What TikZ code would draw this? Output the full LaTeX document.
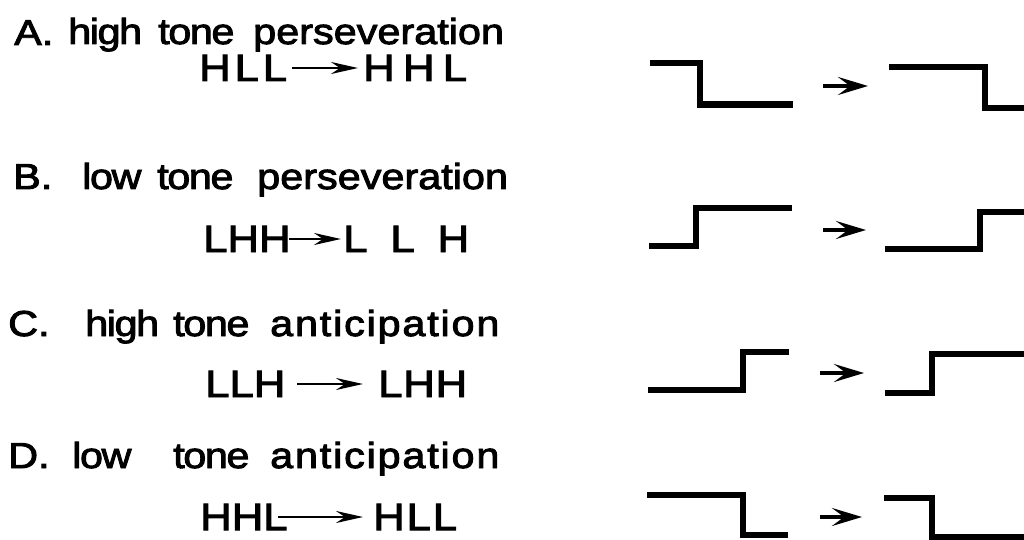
\documentclass[tikz,border=0pt]{standalone}
\usepackage{fontspec}
\setmainfont[FakeStretch=1.15,FakeBold=2.6]{Liberation Sans}
\usetikzlibrary{arrows.meta}
\newcommand{\spreadto}[2]{\makebox[#1][s]{#2}}
\begin{document}
\begin{tikzpicture}[x=1pt,y=-1pt,
  lbl/.style={anchor=base west, inner sep=0pt, font=\fontsize{36}{42}\selectfont},
  wide/.style={font=\fontsize{36}{42}\selectfont\addfontfeature{LetterSpace=5}},
  narrow/.style={font=\fontsize{36}{42}\selectfont\addfontfeature{LetterSpace=-4}},
  tones/.style={anchor=base west, inner sep=0pt, font=\fontsize{38}{42}\selectfont},
  wave/.style={line width=6.5pt, line join=miter, line cap=butt},
  txtarrow/.style={line width=2.8pt, -{Stealth[length=27pt,width=12pt,inset=9pt]}},
  wavearrow/.style={line width=3.6pt, -{Stealth[length=30pt,width=18pt,inset=12pt]}}]
\useasboundingbox (0,0) rectangle (1024,540);
\clip (0,0) rectangle (1024,540);

% ---------- Row A ----------
\node[lbl] (aL) at (14,45) {A.};
\node[lbl,narrow] (a1) at (68,44) {high};
\node[lbl,narrow] (a2) at (158,44) {tone};
\node[lbl] (a3) at (253,44) {perseveration};
\node[tones] (aF) at (199,81) {\spreadto{88pt}{H\hfil L\hfil L}};
\node[tones] (aT) at (363,81) {\spreadto{104pt}{H\hfil H\hfil L}};
\coordinate (aS) at (292,68);
\coordinate (aE) at (358,68);
\draw[txtarrow] (aS) -- (aE);

\draw[wave] (650,63) -- (700,63) -- (700,104.5) -- (793,104.5);
\coordinate (awS) at (823,86);
\coordinate (awE) at (868,86);
\draw[wavearrow] (awS) -- (awE);
\draw[wave] (889,67) -- (985,67) -- (985,108) -- (1030,108);

% ---------- Row B ----------
\node[lbl] (bL) at (13,189) {B.};
\node[lbl,narrow] (b1) at (82,189) {low};
\node[lbl,narrow] (b2) at (157,189) {tone};
\node[lbl] (b3) at (257,189) {perseveration};
\node[tones] (bF) at (203,252) {\spreadto{84pt}{L\hfil H\hfil H}};
\node[tones] (bT) at (343,252) {\spreadto{126pt}{L\hfil L\hfil H}};
\coordinate (bS) at (289,239);
\coordinate (bE) at (341,239);
\draw[txtarrow] (bS) -- (bE);

\draw[wave] (649,246) -- (696,246) -- (696,208) -- (792,208);
\coordinate (bwS) at (823,230);
\coordinate (bwE) at (866,230);
\draw[wavearrow] (bwS) -- (bwE);
\draw[wave] (885,249) -- (980,249) -- (980,212) -- (1030,212);

% ---------- Row C ----------
\node[lbl] (cL) at (8,336) {C.};
\node[lbl,narrow] (c1) at (85,336) {high};
\node[lbl,narrow] (c2) at (173,336) {tone};
\node[lbl,wide] (c3) at (270,336) {anticipation};
\node[tones] (cF) at (205,397) {\spreadto{80pt}{L\hfil L\hfil H}};
\node[tones] (cT) at (378,397) {\spreadto{89pt}{L\hfil H\hfil H}};
\coordinate (cS) at (297,384);
\coordinate (cE) at (363,384);
\draw[txtarrow] (cS) -- (cE);

\draw[wave] (648,390) -- (743,390) -- (743,352) -- (789,352);
\coordinate (cwS) at (820,373);
\coordinate (cwE) at (864,373);
\draw[wavearrow] (cwS) -- (cwE);
\draw[wave] (885,393) -- (932,393) -- (932,354) -- (1030,354);

% ---------- Row D ----------
\node[lbl] (dL) at (8,468) {D.};
\node[lbl,narrow] (d1) at (72,468) {low};
\node[lbl,narrow] (d2) at (173,468) {tone};
\node[lbl,wide] (d3) at (270,468) {anticipation};
\node[tones] (dF) at (200,530) {\spreadto{77pt}{H\hfil H\hfil L}};
\node[tones] (dT) at (373,530) {\spreadto{84pt}{H\hfil L\hfil L}};
\coordinate (dS) at (278,517);
\coordinate (dE) at (363,517);
\draw[txtarrow] (dS) -- (dE);

\draw[wave] (647,495) -- (743,495) -- (743,535) -- (788,535);
\coordinate (dwS) at (820,517);
\coordinate (dwE) at (862,517);
\draw[wavearrow] (dwS) -- (dwE);
\draw[wave] (884,498) -- (932,498) -- (932,537) -- (1030,537);
\end{tikzpicture}
\end{document}
